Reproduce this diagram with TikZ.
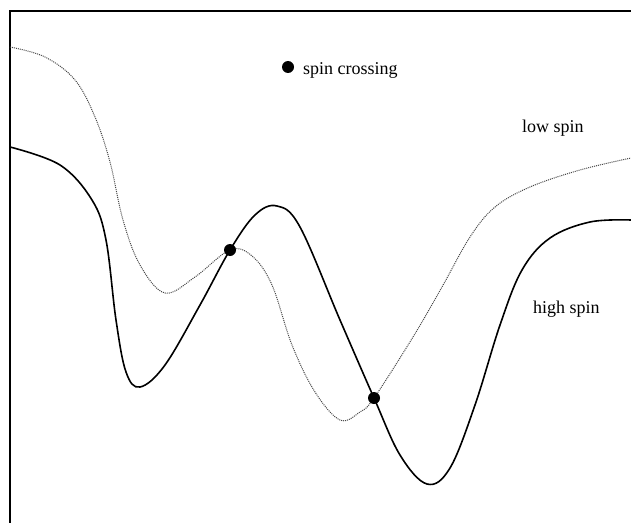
\documentclass[tikz,border=0pt]{standalone}
\usepackage{fontspec}
\setmainfont{Liberation Serif}
\usetikzlibrary{positioning}
\definecolor{lowgray}{RGB}{70,70,70}

\tikzset{
  frameline/.style={line width=1.6pt},
  highspin/.style={line width=1.6pt},
  lowspin/.style={lowgray,line width=1pt,densely dotted},
  crossdot/.style={circle,fill=black,inner sep=0pt,minimum size=12pt},
  curvelabel/.style={font=\fontsize{18}{20}\selectfont,inner sep=0pt}
}

\begin{document}
\begin{tikzpicture}[x=1pt,y=-1pt]
    \useasboundingbox (0,0) rectangle (631,524);
    % axes
    \draw[frameline] (631,11) -- (10,11) -- (10,523);
    % high spin surface
    \draw[highspin] plot[smooth,tension=0.6] coordinates {
      (10,147) (60,165) (92,200) (106,240) (116,320) (126,372) (140,387)
      (165,365) (200,305) (230,250) (255,215) (277,206) (300,227)
      (340,320) (374,398) (400,455) (427,484) (450,468) (475,405)
      (500,325) (522,270) (550,238) (590,222) (631,220)};
    % low spin surface
    \draw[lowspin] plot[smooth,tension=0.6] coordinates {
      (10,47) (45,57) (75,80) (95,117) (110,162) (123,220) (140,265)
      (165,293) (195,277) (230,250) (252,256) (272,285) (292,345)
      (315,392) (340,420) (360,412) (374,398) (413,337) (442,287)
      (470,237) (495,207) (530,187) (580,170) (631,158)};
    % crossings
    \node[crossdot] (cross1) at (230,250) {};
    \node[crossdot] (cross2) at (374,398) {};
    % labels
    \node[crossdot] (legenddot) at (288,67) {};
    \node[curvelabel,anchor=base west] (legend) at (303,75) {spin crossing};
    \node[curvelabel,anchor=base west] (lowlabel) at (522,132) {low spin};
    \node[curvelabel,anchor=base west] (highlabel) at (533,313) {high spin};
\end{tikzpicture}
\end{document}
